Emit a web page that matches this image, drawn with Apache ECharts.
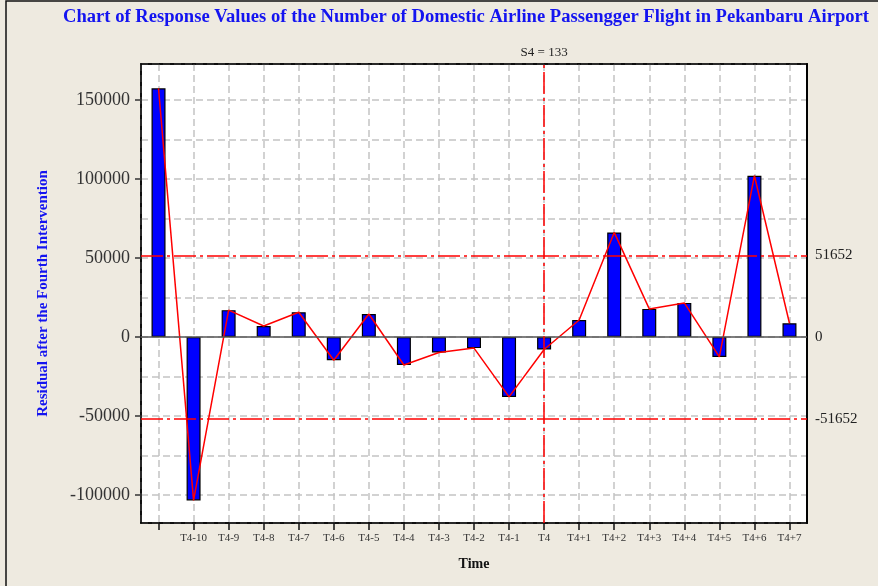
<!DOCTYPE html>
<html>
<head>
<meta charset="utf-8">
<title>Response values chart</title>
<script src="https://cdn.jsdelivr.net/npm/echarts@6/dist/echarts.min.js"></script>
<style>
  html, body { margin: 0; padding: 0; background: #eeeae0; }
  #chart { width: 878px; height: 586px; }
</style>
</head>
<body>
<div id="chart"></div>
<script>
// time labels (first point has no label in the original)
const timeLabels = ['', 'T4-10', 'T4-9', 'T4-8', 'T4-7', 'T4-6', 'T4-5', 'T4-4', 'T4-3', 'T4-2', 'T4-1',
  'T4', 'T4+1', 'T4+2', 'T4+3', 'T4+4', 'T4+5', 'T4+6', 'T4+7']
// residual values
const residuals = [157400, -103400, 17000, 7000, 15700, -14700, 14600, -17700, -9800, -7000, -37900,
  -7900, 10800, 66200, 17800, 21600, -12600, 102100, 8700]
const limit = 51652
const interventionLabel = 'S4 = 133'
const interventionAt = 11
const yMin = -117700
const yMax = 172800

const serif = '"Liberation Serif", "DejaVu Serif", serif'
const dashDot = [22, 4, 3, 4]
const gridDash = { color: '#c4c4c4', type: [7, 4], width: 1.5 }
const frameLine = { show: true, onZero: false, lineStyle: { color: '#000', width: 1.5 } }
const hidden = { axisTick: { show: false }, axisLabel: { show: false } }

const chart = echarts.init(document.getElementById('chart'))
chart.setOption({
  backgroundColor: '#eeeae0',
  animation: false,
  graphic: [{
    type: 'rect',
    shape: { x: 6, y: 1, width: 900, height: 600 },
    style: { fill: 'none', stroke: '#111', lineWidth: 1.5 },
    silent: true
  }],
  title: {
    text: 'Chart of Response Values of the Number of Domestic Airline Passengger Flight in Pekanbaru Airport',
    left: 63,
    top: 8,
    padding: 0,
    textStyle: { fontFamily: serif, fontWeight: 'bold', fontSize: 18.6, color: '#1414f0' }
  },
  grid: {
    left: 141,
    right: 71,
    top: 64,
    bottom: 63,
    show: true,
    backgroundColor: '#ffffff',
    borderColor: '#000',
    borderWidth: 1.5
  },
  xAxis: [
    {
      type: 'category',
      data: timeLabels,
      name: 'Time',
      nameLocation: 'middle',
      nameGap: 34,
      nameTextStyle: { fontFamily: serif, fontWeight: 'bold', fontSize: 14, color: '#111' },
      axisLine: frameLine,
      axisTick: { show: true, alignWithLabel: true, interval: 0, length: 7, lineStyle: { color: '#111', width: 1.5 } },
      axisLabel: { interval: 0, fontFamily: serif, fontSize: 11, color: '#333', margin: 10 },
      splitLine: { show: false },
      z: 4
    },
    {
      // top frame edge
      type: 'value',
      position: 'top',
      min: 0,
      max: 1,
      axisLine: frameLine,
      ...hidden,
      splitLine: { show: false },
      z: 4
    },
    {
      // vertical grid lines through the category centres
      type: 'value',
      position: 'top',
      min: -0.5,
      max: timeLabels.length - 0.5,
      splitNumber: timeLabels.length,
      axisLine: { show: false },
      ...hidden,
      splitLine: { show: true, lineStyle: gridDash }
    }
  ],
  yAxis: [
    {
      type: 'value',
      min: yMin,
      max: yMax,
      splitNumber: 6,
      name: 'Residual after the Fourth Intervention',
      nameLocation: 'middle',
      nameGap: 90,
      nameTextStyle: { fontFamily: serif, fontWeight: 'bold', fontSize: 15, color: '#1414f0' },
      axisLine: frameLine,
      axisTick: { length: 6, lineStyle: { color: '#333', width: 1.5 } },
      axisLabel: {
        fontFamily: serif, fontSize: 18, color: '#333', margin: 11,
        showMinLabel: false, showMaxLabel: false,
        formatter: (v) => String(v)
      },
      splitLine: { show: false },
      z: 4
    },
    {
      // right frame edge
      type: 'value',
      position: 'right',
      min: yMin,
      max: yMax,
      axisLine: { show: true, onZero: false, lineStyle: { color: '#000', width: 2 } },
      ...hidden,
      splitLine: { show: false },
      z: 4
    },
    {
      // horizontal grid lines every 25000
      type: 'value',
      min: yMin,
      max: yMax,
      splitNumber: 6,
      axisLine: { show: false },
      ...hidden,
      splitLine: { show: true, lineStyle: gridDash },
      minorTick: { show: false, splitNumber: 2 },
      minorSplitLine: { show: true, lineStyle: gridDash }
    }
  ],
  series: [
    {
      name: 'Residual',
      type: 'bar',
      data: residuals,
      barWidth: 14,
      itemStyle: { color: '#0000ff', borderColor: '#000', borderWidth: 1.2 },
      markLine: {
        silent: true,
        symbol: 'none',
        animation: false,
        label: { position: 'end', distance: 8, fontFamily: serif, fontSize: 15, color: '#222' },
        data: [
          { yAxis: 0, label: { formatter: '0' }, lineStyle: { color: '#555', type: 'solid', width: 1.5 } },
          { yAxis: limit, label: { formatter: String(limit) }, lineStyle: { color: '#ff0000', type: dashDot, width: 1.5 } },
          { yAxis: -limit, label: { formatter: String(-limit) }, lineStyle: { color: '#ff0000', type: dashDot, width: 1.5 } },
          {
            xAxis: interventionAt,
            label: { formatter: interventionLabel, fontSize: 13, distance: 5, color: '#222' },
            lineStyle: { color: '#ff0000', type: dashDot, width: 1.5 }
          }
        ]
      }
    },
    {
      name: 'Residual line',
      type: 'line',
      data: residuals,
      symbol: 'none',
      lineStyle: { color: '#ff0000', width: 1.5 },
      z: 3
    }
  ]
})
</script>
</body>
</html>
